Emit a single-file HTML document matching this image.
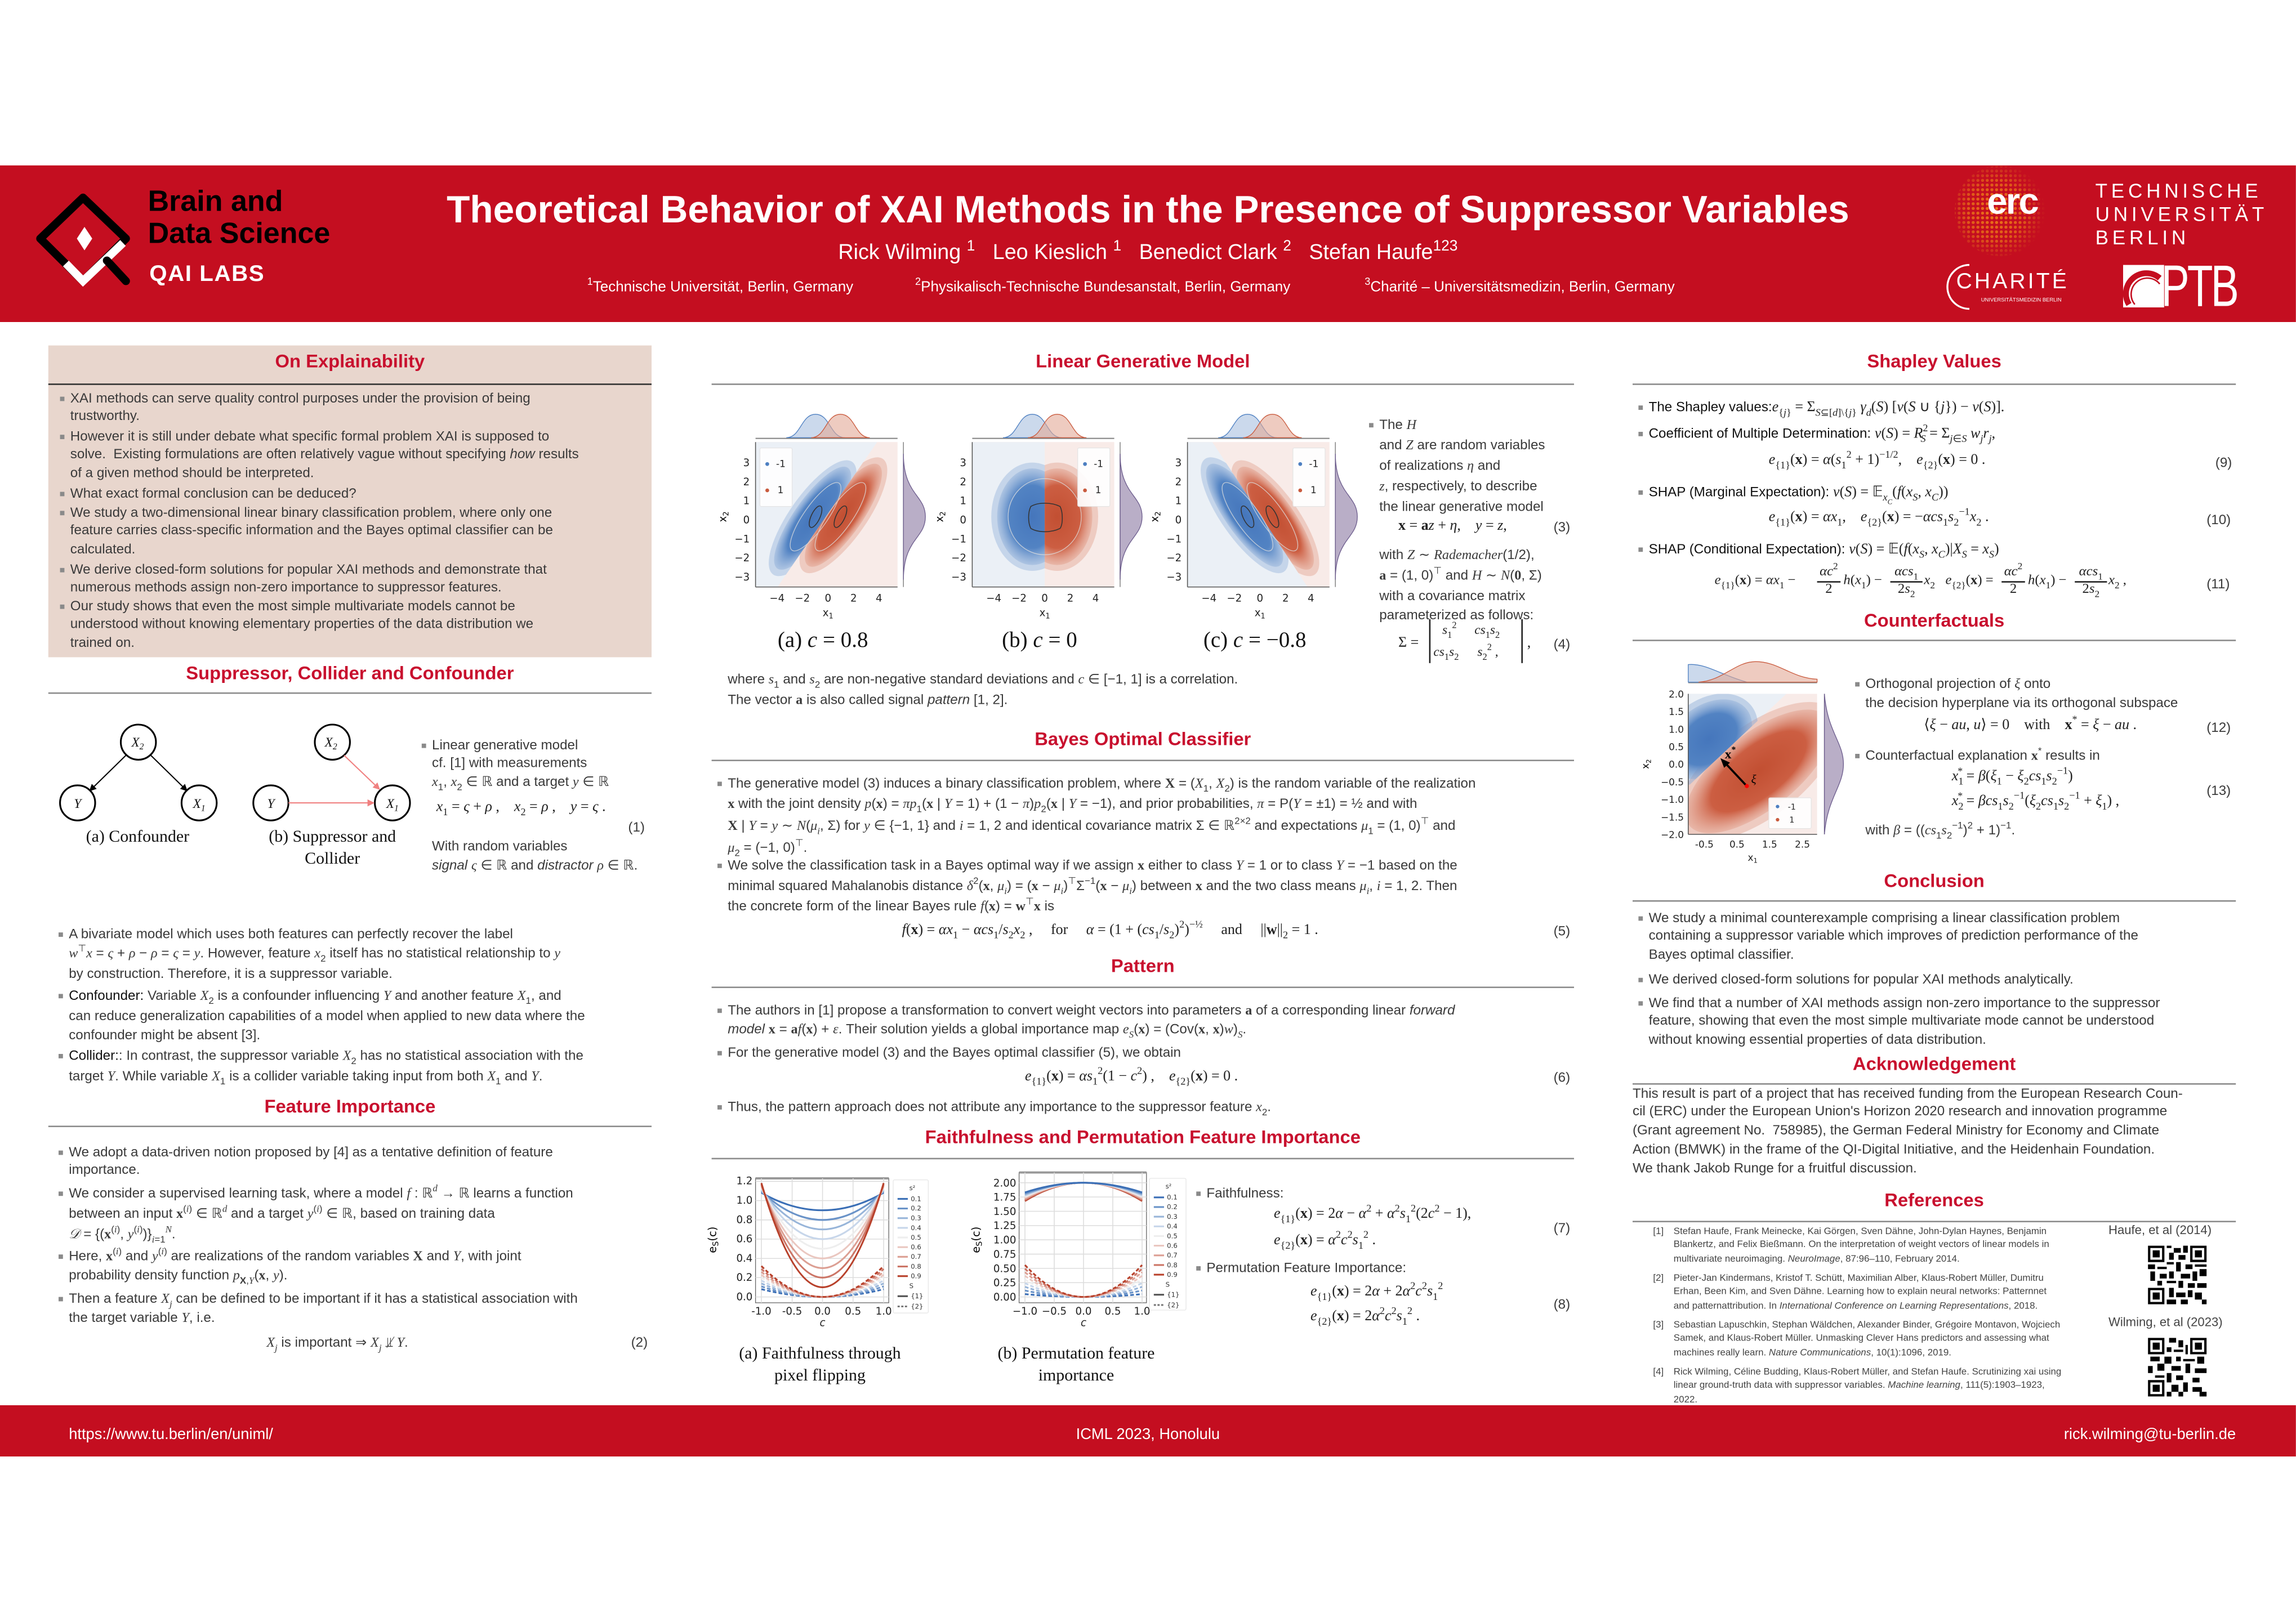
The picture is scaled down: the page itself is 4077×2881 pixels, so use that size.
<!DOCTYPE html>
<html><head><meta charset="utf-8">
<style>
html,body{margin:0;padding:0;background:#fff;}
body{width:4077px;height:2880px;overflow:hidden;position:relative;}
#w{position:absolute;left:0;top:0;width:1568px;height:1108px;transform:scale(2.6);transform-origin:0 0;font-family:"Liberation Sans",sans-serif;color:#333;}
#w div{position:absolute;white-space:nowrap;}
.tx{font-size:9.3px;line-height:12.9px;color:#3a3a3a;}
.k{color:#111;}
.bu::before{content:"";position:absolute;left:-7px;top:5px;width:3px;height:3px;background:#8a8a8a;}
.m{font-family:"Liberation Serif",serif;font-style:italic;}
.r{font-family:"Liberation Serif",serif;}
.bf{font-family:"Liberation Serif",serif;font-weight:bold;}
.eq{font-family:"Liberation Serif",serif;font-size:10px;color:#222;}
.t{font-weight:bold;font-size:12.6px;color:#C8102E;text-align:center;}
.hl{height:0.8px;background:#8c8c8c;}
.cap{font-family:"Liberation Serif",serif;font-size:11.5px;color:#111;text-align:center;line-height:14.5px;}
sub,sup{font-size:70%;line-height:0;}
svg{position:absolute;overflow:visible;}
</style></head><body><div id="w">

<svg style="left:0;top:0" width="0" height="0">
 <defs>
  <radialGradient id="gb"><stop offset="0" stop-color="#4576bc"/><stop offset="0.65" stop-color="#5283c3"/><stop offset="1" stop-color="#7fa3d3" stop-opacity="0.35"/></radialGradient>
  <radialGradient id="gr"><stop offset="0" stop-color="#c24f32"/><stop offset="0.65" stop-color="#cc5e42"/><stop offset="1" stop-color="#dd8f78" stop-opacity="0.35"/></radialGradient>
 </defs>
</svg>

<!-- HEADER -->
<div style="left:0;top:113px;width:1568px;height:107px;background:#C40E20;"></div>
<svg style="left:0;top:113px" width="100" height="107" viewBox="0 113 100 107">
 <polygon points="56.7,135 86,163 56.7,192 27.5,163" fill="none" stroke="#000" stroke-width="5.5" stroke-linejoin="round"/>
 <polyline points="45,180 56.7,192 84,166" fill="none" stroke="#fff" stroke-width="5.5"/>
 <line x1="73" y1="178" x2="86" y2="192" stroke="#000" stroke-width="5.5" stroke-linecap="round"/>
 <polygon points="57.7,155 63,163 57.7,171 52.5,163" fill="#fff"/>
</svg>
<div style="left:101px;top:127px;font-weight:bold;font-size:20px;line-height:22px;color:#000;">Brain and<br>Data Science</div>
<div style="left:102px;top:179px;font-weight:bold;font-size:15.5px;color:#fff;letter-spacing:0.6px;">QAI LABS</div>
<div style="left:284px;top:128px;width:1000px;text-align:center;font-weight:bold;font-size:26px;color:#fff;">Theoretical Behavior of XAI Methods in the Presence of Suppressor Variables</div>
<div style="left:384px;top:165px;width:800px;text-align:center;font-size:14.5px;color:#fff;">Rick Wilming <sup>1</sup> &nbsp; Leo Kieslich <sup>1</sup> &nbsp; Benedict Clark <sup>2</sup> &nbsp; Stefan Haufe<sup>123</sup></div>
<div style="left:401px;top:191px;font-size:10px;color:#fff;"><sup>1</sup>Technische Universität, Berlin, Germany</div>
<div style="left:625px;top:191px;font-size:10px;color:#fff;"><sup>2</sup>Physikalisch-Technische Bundesanstalt, Berlin, Germany</div>
<div style="left:932px;top:191px;font-size:10px;color:#fff;"><sup>3</sup>Charité – Universitätsmedizin, Berlin, Germany</div>
<svg style="left:1330px;top:112px" width="72" height="64" viewBox="0 0 72 64">
 <defs><radialGradient id="eg" cx="0.45" cy="0.5" r="0.55"><stop offset="0" stop-color="#f07a1a"/><stop offset="0.6" stop-color="#e56a18" stop-opacity="0.8"/><stop offset="1" stop-color="#e06a20" stop-opacity="0"/></radialGradient>
 <pattern id="dp" width="3.2" height="3.2" patternUnits="userSpaceOnUse"><circle cx="1.6" cy="1.6" r="1.05" fill="#fff"/></pattern>
 <mask id="dm"><rect width="72" height="64" fill="url(#dp)"/></mask></defs>
 <circle cx="36" cy="32" r="31" fill="url(#eg)" mask="url(#dm)"/>
</svg>
<div style="left:1357px;top:124px;font-weight:bold;font-size:25px;color:#fff;letter-spacing:-1px;">erc</div>
<div style="left:1431px;top:123px;font-size:13.5px;line-height:15.8px;color:#fff;letter-spacing:2.6px;">TECHNISCHE<br>UNIVERSITÄT<br>BERLIN</div>
<svg style="left:1324px;top:178px" width="90" height="36" viewBox="0 0 90 36">
 <path d="M21,3 A15,15 0 1 0 21,33" fill="none" stroke="#fff" stroke-width="1.3"/>
</svg>
<div style="left:1336px;top:184px;font-size:15px;color:#fff;letter-spacing:1.6px;">CHARITÉ</div>
<div style="left:1353px;top:203px;font-size:3.6px;color:#fff;">UNIVERSITÄTSMEDIZIN BERLIN</div>
<div style="left:1450px;top:181px;width:28px;height:29px;background:#fff;"></div>
<svg style="left:1450px;top:181px" width="28" height="29" viewBox="0 0 28 29"><path d="M4,27 A14,14 0 0 1 25,9" fill="none" stroke="#C40E20" stroke-width="4"/><path d="M8,27 A10,10 0 0 1 25,13" fill="none" stroke="#C40E20" stroke-width="1"/></svg>
<div style="left:1476px;top:174px;font-size:40px;color:#fff;transform:scaleX(0.72);transform-origin:0 0;letter-spacing:-2px;">PTB</div>

<!-- FOOTER -->
<div style="left:0;top:960px;width:1568px;height:35px;background:#C40E20;"></div>
<div style="left:47px;top:974px;font-size:10.5px;color:#fff;">https://www.tu.berlin/en/uniml/</div>
<div style="left:684px;top:974px;width:200px;text-align:center;font-size:10.5px;color:#fff;">ICML 2023, Honolulu</div>
<div style="left:1327px;top:974px;width:200px;text-align:right;font-size:10.5px;color:#fff;">rick.wilming@tu-berlin.de</div>

<!-- COLUMN 1 -->
<div style="left:33px;top:236px;width:412px;height:213px;background:#E8D6CD;"></div>
<div class="t" style="left:33px;top:240px;width:412px;">On Explainability</div>
<div class="hl" style="left:33px;top:262px;width:412px;background:#333;"></div>
<div class="tx bu" style="left:48px;top:265.5px;">XAI methods can serve quality control purposes under the provision of being<br>trustworthy.</div>
<div class="tx bu" style="left:48px;top:291.5px;">However it is still under debate what specific formal problem XAI is supposed to<br>solve.&nbsp; Existing formulations are often relatively vague without specifying <i>how</i> results<br>of a given method should be interpreted.</div>
<div class="tx bu" style="left:48px;top:330.5px;">What exact formal conclusion can be deduced?</div>
<div class="tx bu" style="left:48px;top:343.5px;">We study a two-dimensional linear binary classification problem, where only one<br>feature carries class-specific information and the Bayes optimal classifier can be<br>calculated.</div>
<div class="tx bu" style="left:48px;top:382.5px;">We derive closed-form solutions for popular XAI methods and demonstrate that<br>numerous methods assign non-zero importance to suppressor features.</div>
<div class="tx bu" style="left:48px;top:407.5px;">Our study shows that even the most simple multivariate models cannot be<br>understood without knowing elementary properties of the data distribution we<br>trained on.</div>

<div class="t" style="left:33px;top:453px;width:412px;">Suppressor, Collider and Confounder</div>
<div class="hl" style="left:33px;top:472.5px;width:412px;"></div>
<svg style="left:33px;top:480px" width="260" height="120" viewBox="33 480 260 120">
 <defs><marker id="ah" markerWidth="6" markerHeight="6" refX="5" refY="3" orient="auto"><path d="M0,0 L6,3 L0,6 Z" fill="#000"/></marker>
 <marker id="ahr" markerWidth="6" markerHeight="6" refX="5" refY="3" orient="auto"><path d="M0,0 L6,3 L0,6 Z" fill="#f08080"/></marker></defs>
 <g fill="#fff" stroke="#000" stroke-width="1.2">
  <circle cx="94.5" cy="507" r="12"/><circle cx="53" cy="548.5" r="12"/><circle cx="136" cy="548.5" r="12"/>
  <circle cx="227" cy="507" r="12"/><circle cx="185" cy="548.5" r="12"/><circle cx="268" cy="548.5" r="12"/>
 </g>
 <line x1="86" y1="516" x2="61.5" y2="540" stroke="#000" stroke-width="0.8" marker-end="url(#ah)"/>
 <line x1="103" y1="516" x2="127.5" y2="540" stroke="#000" stroke-width="0.8" marker-end="url(#ah)"/>
 <line x1="235" y1="516" x2="259" y2="539" stroke="#f08080" stroke-width="0.8" marker-end="url(#ahr)"/>
 <line x1="197" y1="548.5" x2="255" y2="548.5" stroke="#f08080" stroke-width="0.8" marker-end="url(#ahr)"/>
 <g font-family="Liberation Serif" font-style="italic" font-size="9" text-anchor="middle" fill="#111">
  <text x="94" y="510">X<tspan font-size="6" dy="2">2</tspan></text><text x="53" y="552">Y</text><text x="136" y="552">X<tspan font-size="6" dy="2">1</tspan></text>
  <text x="226" y="510">X<tspan font-size="6" dy="2">2</tspan></text><text x="185" y="552">Y</text><text x="268" y="552">X<tspan font-size="6" dy="2">1</tspan></text>
 </g>
</svg>
<div class="cap" style="left:39px;top:565px;width:110px;">(a) Confounder</div>
<div class="cap" style="left:167px;top:565px;width:120px;">(b) Suppressor and<br>Collider</div>
<div class="tx bu" style="left:295px;top:502.5px;">Linear generative model<br>cf. [1] with measurements<br><span class="m">x</span><sub>1</sub>, <span class="m">x</span><sub>2</sub> ∈ ℝ and a target <span class="m">y</span> ∈ ℝ</div>
<div class="eq" style="left:298px;top:546px;"><span class="m">x</span><sub>1</sub> = <span class="m">ς</span> + <span class="m">ρ</span> , &nbsp;&nbsp; <span class="m">x</span><sub>2</sub> = <span class="m">ρ</span> , &nbsp;&nbsp; <span class="m">y</span> = <span class="m">ς</span> .</div>
<div class="tx" style="left:429px;top:559px;">(1)</div>
<div class="tx" style="left:295px;top:572px;">With random variables<br><i>signal</i> <span class="m">ς</span> ∈ ℝ and <i>distractor</i> <span class="m">ρ</span> ∈ ℝ.</div>

<div class="tx bu" style="left:47px;top:631.5px;line-height:13.2px;">A bivariate model which uses both features can perfectly recover the label<br><span class="m">w</span><sup>⊤</sup><span class="m">x</span> = <span class="m">ς</span> + <span class="m">ρ</span> − <span class="m">ρ</span> = <span class="m">ς</span> = <span class="m">y</span>. However, feature <span class="m">x</span><sub>2</sub> itself has no statistical relationship to <span class="m">y</span><br>by construction. Therefore, it is a suppressor variable.</div>
<div class="tx bu" style="left:47px;top:673.5px;line-height:13.2px;"><span class="k">Confounder:</span> Variable <span class="m">X</span><sub>2</sub> is a confounder influencing <span class="m">Y</span> and another feature <span class="m">X</span><sub>1</sub>, and<br>can reduce generalization capabilities of a model when applied to new data where the<br>confounder might be absent [3].</div>
<div class="tx bu" style="left:47px;top:714.5px;line-height:13.2px;"><span class="k">Collider:</span>: In contrast, the suppressor variable <span class="m">X</span><sub>2</sub> has no statistical association with the<br>target <span class="m">Y</span>. While variable <span class="m">X</span><sub>1</sub> is a collider variable taking input from both <span class="m">X</span><sub>1</sub> and <span class="m">Y</span>.</div>

<div class="t" style="left:33px;top:749px;width:412px;">Feature Importance</div>
<div class="hl" style="left:33px;top:768.5px;width:412px;"></div>
<div class="tx bu" style="left:47px;top:780.5px;">We adopt a data-driven notion proposed by [4] as a tentative definition of feature<br>importance.</div>
<div class="tx bu" style="left:47px;top:808.5px;line-height:13.4px;">We consider a supervised learning task, where a model <span class="m">f</span> : ℝ<sup class="m">d</sup> → ℝ learns a function<br>between an input <b class="r">x</b><sup>(<span class="m">i</span>)</sup> ∈ ℝ<sup class="m">d</sup> and a target <span class="m">y</span><sup>(<span class="m">i</span>)</sup> ∈ ℝ, based on training data<br><span class="m">𝒟</span> = {(<b class="r">x</b><sup>(<span class="m">i</span>)</sup>, <span class="m">y</span><sup>(<span class="m">i</span>)</sup>)}<sub><span class="m">i</span>=1</sub><sup class="m">N</sup>.</div>
<div class="tx bu" style="left:47px;top:851.5px;">Here, <b class="r">x</b><sup>(<span class="m">i</span>)</sup> and <span class="m">y</span><sup>(<span class="m">i</span>)</sup> are realizations of the random variables <b class="r">X</b> and <span class="m">Y</span>, with joint<br>probability density function <span class="m">p</span><sub><b>X</b>,<span class="m">Y</span></sub>(<b class="r">x</b>, <span class="m">y</span>).</div>
<div class="tx bu" style="left:47px;top:880.5px;">Then a feature <span class="m">X<sub>j</sub></span> can be defined to be important if it has a statistical association with<br>the target variable <span class="m">Y</span>, i.e.</div>
<div class="tx" style="left:182px;top:910.5px;"><span class="m">X<sub>j</sub></span> is important ⇒ <span class="m">X<sub>j</sub></span> ⫫̸ <span class="m">Y</span>.</div>
<div class="tx" style="left:431px;top:910.5px;">(2)</div>

<!-- COLUMN 2 -->
<div class="t" style="left:486px;top:240px;width:589px;">Linear Generative Model</div>
<div class="hl" style="left:486px;top:261.5px;width:589px;"></div>

<!-- scatter a -->
<svg style="left:486px;top:280px" width="150" height="145" viewBox="0 0 150 145">
 <defs><clipPath id="ba"><polygon points="30,22 113,22 45,121 30,121"/></clipPath><clipPath id="ra"><polygon points="113,22 127,22 127,121 45,121"/></clipPath></defs>
 <rect x="30" y="22" width="97" height="99" fill="#F8EBE8"/>
 <polygon points="30,22 113,22 45,121 30,121" fill="#EBF0F6"/>
 <g clip-path="url(#ba)"><ellipse cx="69" cy="74" rx="47" ry="16" transform="rotate(-55 69 74)" fill="#7fa3d3" opacity="0.35"/><ellipse cx="69" cy="74" rx="42" ry="13" transform="rotate(-55 69 74)" fill="url(#gb)"/></g>
 <g clip-path="url(#ra)"><ellipse cx="90" cy="72" rx="47" ry="16" transform="rotate(-55 90 72)" fill="#dd8f78" opacity="0.35"/><ellipse cx="90" cy="72" rx="42" ry="13" transform="rotate(-55 90 72)" fill="url(#gr)"/></g>
 <g fill="none" stroke="#ddd" stroke-width="0.5" opacity="0.8"><ellipse cx="71" cy="73" rx="28" ry="8" transform="rotate(-55 71 73)"/><ellipse cx="88" cy="73" rx="28" ry="8" transform="rotate(-55 88 73)"/></g>
 <g fill="none" stroke="#333" stroke-width="0.6"><ellipse cx="71" cy="73" rx="8" ry="3" transform="rotate(-65 71 73)"/><ellipse cx="88" cy="73" rx="8" ry="3" transform="rotate(-65 88 73)"/></g>
 <rect x="33" y="26" width="22" height="40" fill="#fff" opacity="0.92" stroke="#e4e4e4" stroke-width="0.5" rx="1"/>
 <circle cx="38" cy="37" r="1.3" fill="#4d7fc1"/><circle cx="38" cy="55" r="1.3" fill="#c95a3d"/>
 <g font-family="DejaVu Sans" font-size="6.5" fill="#222"><text x="44" y="39">-1</text><text x="45" y="57">1</text></g>
 <line x1="30" y1="19.5" x2="127" y2="19.5" stroke="#888" stroke-width="0.8"/>
 <path d="M51,19 C61,19 61,3 71,3 C81,3 81,19 91,19 Z" fill="#a8bfdf" fill-opacity="0.6" stroke="#4d7fc1" stroke-width="0.5"/>
 <path d="M68,19 C78,19 78,3 88,3 C98,3 98,19 108,19 Z" fill="#e3a896" fill-opacity="0.6" stroke="#c95a3d" stroke-width="0.5"/>
 <line x1="131" y1="22" x2="131" y2="121" stroke="#888" stroke-width="0.6"/>
 <path d="M131,30 C131,58 146,58 146,73 C146,88 131,88 131,116 Z" fill="#b9aec7" stroke="#6b5b8c" stroke-width="0.5"/>
 <line x1="30" y1="121" x2="127" y2="121" stroke="#555" stroke-width="0.6"/><line x1="30" y1="22" x2="30" y2="121" stroke="#555" stroke-width="0.6"/>
 <g font-family="DejaVu Sans" font-size="7" fill="#222" text-anchor="end"><text x="26" y="38.5">3</text><text x="26" y="51.5">2</text><text x="26" y="64.5">1</text><text x="26" y="77.5">0</text><text x="26" y="90.5">−1</text><text x="26" y="103.5">−2</text><text x="26" y="116.5">−3</text></g>
 <g font-family="DejaVu Sans" font-size="7" fill="#222" text-anchor="middle"><text x="44.7" y="131">−4</text><text x="62" y="131">−2</text><text x="79.5" y="131">0</text><text x="97" y="131">2</text><text x="114.3" y="131">4</text><text x="79.5" y="141">x<tspan font-size="5" dy="1.5">1</tspan></text></g>
 <text x="10" y="73" font-family="DejaVu Sans" font-size="7" transform="rotate(-90 10 73)" text-anchor="middle">x<tspan font-size="5" dy="1.5">2</tspan></text>
</svg>
<!-- scatter b -->
<svg style="left:634px;top:280px" width="150" height="145" viewBox="0 0 150 145">
 <defs><clipPath id="bb"><rect x="30" y="22" width="49.5" height="99"/></clipPath><clipPath id="rb"><rect x="79.5" y="22" width="47.5" height="99"/></clipPath></defs>
 <rect x="30" y="22" width="97" height="99" fill="#F8EBE8"/>
 <rect x="30" y="22" width="49.5" height="99" fill="#EBF0F6"/>
 <g clip-path="url(#bb)"><ellipse cx="71" cy="73" rx="28" ry="37" fill="#7fa3d3" opacity="0.35"/><ellipse cx="71" cy="73" rx="24" ry="33" fill="url(#gb)"/></g>
 <g clip-path="url(#rb)"><ellipse cx="88" cy="73" rx="28" ry="37" fill="#dd8f78" opacity="0.35"/><ellipse cx="88" cy="73" rx="24" ry="33" fill="url(#gr)"/></g>
 <g fill="none" stroke="#ddd" stroke-width="0.5" opacity="0.8"><ellipse cx="79.5" cy="73" rx="25" ry="26"/></g>
 <path d="M70,66 C75,63 84,63 90,66 C92,70 92,78 90,81 C84,84 75,84 70,81 C68,77 68,70 70,66 Z" fill="none" stroke="#333" stroke-width="0.6"/>
 <rect x="102" y="26" width="22" height="40" fill="#fff" opacity="0.92" stroke="#e4e4e4" stroke-width="0.5" rx="1"/>
 <circle cx="107" cy="37" r="1.3" fill="#4d7fc1"/><circle cx="107" cy="55" r="1.3" fill="#c95a3d"/>
 <g font-family="DejaVu Sans" font-size="6.5" fill="#222"><text x="113" y="39">-1</text><text x="114" y="57">1</text></g>
 <line x1="30" y1="19.5" x2="127" y2="19.5" stroke="#888" stroke-width="0.8"/>
 <path d="M51,19 C61,19 61,3 71,3 C81,3 81,19 91,19 Z" fill="#a8bfdf" fill-opacity="0.6" stroke="#4d7fc1" stroke-width="0.5"/>
 <path d="M68,19 C78,19 78,3 88,3 C98,3 98,19 108,19 Z" fill="#e3a896" fill-opacity="0.6" stroke="#c95a3d" stroke-width="0.5"/>
 <line x1="131" y1="22" x2="131" y2="121" stroke="#888" stroke-width="0.6"/>
 <path d="M131,30 C131,58 146,58 146,73 C146,88 131,88 131,116 Z" fill="#b9aec7" stroke="#6b5b8c" stroke-width="0.5"/>
 <line x1="30" y1="121" x2="127" y2="121" stroke="#555" stroke-width="0.6"/><line x1="30" y1="22" x2="30" y2="121" stroke="#555" stroke-width="0.6"/>
 <g font-family="DejaVu Sans" font-size="7" fill="#222" text-anchor="end"><text x="26" y="38.5">3</text><text x="26" y="51.5">2</text><text x="26" y="64.5">1</text><text x="26" y="77.5">0</text><text x="26" y="90.5">−1</text><text x="26" y="103.5">−2</text><text x="26" y="116.5">−3</text></g>
 <g font-family="DejaVu Sans" font-size="7" fill="#222" text-anchor="middle"><text x="44.7" y="131">−4</text><text x="62" y="131">−2</text><text x="79.5" y="131">0</text><text x="97" y="131">2</text><text x="114.3" y="131">4</text><text x="79.5" y="141">x<tspan font-size="5" dy="1.5">1</tspan></text></g>
 <text x="10" y="73" font-family="DejaVu Sans" font-size="7" transform="rotate(-90 10 73)" text-anchor="middle">x<tspan font-size="5" dy="1.5">2</tspan></text>
</svg>
<!-- scatter c -->
<svg style="left:781px;top:280px" width="150" height="145" viewBox="0 0 150 145">
 <defs><clipPath id="bc"><polygon points="30,22 47,22 112,121 30,121"/></clipPath><clipPath id="rc"><polygon points="47,22 127,22 127,121 112,121"/></clipPath></defs>
 <rect x="30" y="22" width="97" height="99" fill="#F8EBE8"/>
 <polygon points="30,22 47,22 112,121 30,121" fill="#EBF0F6"/>
 <g clip-path="url(#bc)"><ellipse cx="69" cy="72" rx="47" ry="16" transform="rotate(55 69 72)" fill="#7fa3d3" opacity="0.35"/><ellipse cx="69" cy="72" rx="42" ry="13" transform="rotate(55 69 72)" fill="url(#gb)"/></g>
 <g clip-path="url(#rc)"><ellipse cx="90" cy="74" rx="47" ry="16" transform="rotate(55 90 74)" fill="#dd8f78" opacity="0.35"/><ellipse cx="90" cy="74" rx="42" ry="13" transform="rotate(55 90 74)" fill="url(#gr)"/></g>
 <g fill="none" stroke="#ddd" stroke-width="0.5" opacity="0.8"><ellipse cx="71" cy="73" rx="28" ry="8" transform="rotate(55 71 73)"/><ellipse cx="88" cy="73" rx="28" ry="8" transform="rotate(55 88 73)"/></g>
 <g fill="none" stroke="#333" stroke-width="0.6"><ellipse cx="71" cy="73" rx="8" ry="3" transform="rotate(65 71 73)"/><ellipse cx="88" cy="73" rx="8" ry="3" transform="rotate(65 88 73)"/></g>
 <rect x="102" y="26" width="22" height="40" fill="#fff" opacity="0.92" stroke="#e4e4e4" stroke-width="0.5" rx="1"/>
 <circle cx="107" cy="37" r="1.3" fill="#4d7fc1"/><circle cx="107" cy="55" r="1.3" fill="#c95a3d"/>
 <g font-family="DejaVu Sans" font-size="6.5" fill="#222"><text x="113" y="39">-1</text><text x="114" y="57">1</text></g>
 <line x1="30" y1="19.5" x2="127" y2="19.5" stroke="#888" stroke-width="0.8"/>
 <path d="M51,19 C61,19 61,3 71,3 C81,3 81,19 91,19 Z" fill="#a8bfdf" fill-opacity="0.6" stroke="#4d7fc1" stroke-width="0.5"/>
 <path d="M68,19 C78,19 78,3 88,3 C98,3 98,19 108,19 Z" fill="#e3a896" fill-opacity="0.6" stroke="#c95a3d" stroke-width="0.5"/>
 <line x1="131" y1="22" x2="131" y2="121" stroke="#888" stroke-width="0.6"/>
 <path d="M131,30 C131,58 146,58 146,73 C146,88 131,88 131,116 Z" fill="#b9aec7" stroke="#6b5b8c" stroke-width="0.5"/>
 <line x1="30" y1="121" x2="127" y2="121" stroke="#555" stroke-width="0.6"/><line x1="30" y1="22" x2="30" y2="121" stroke="#555" stroke-width="0.6"/>
 <g font-family="DejaVu Sans" font-size="7" fill="#222" text-anchor="end"><text x="26" y="38.5">3</text><text x="26" y="51.5">2</text><text x="26" y="64.5">1</text><text x="26" y="77.5">0</text><text x="26" y="90.5">−1</text><text x="26" y="103.5">−2</text><text x="26" y="116.5">−3</text></g>
 <g font-family="DejaVu Sans" font-size="7" fill="#222" text-anchor="middle"><text x="44.7" y="131">−4</text><text x="62" y="131">−2</text><text x="79.5" y="131">0</text><text x="97" y="131">2</text><text x="114.3" y="131">4</text><text x="79.5" y="141">x<tspan font-size="5" dy="1.5">1</tspan></text></g>
 <text x="10" y="73" font-family="DejaVu Sans" font-size="7" transform="rotate(-90 10 73)" text-anchor="middle">x<tspan font-size="5" dy="1.5">2</tspan></text>
</svg>
<div class="cap" style="left:502px;top:431px;width:120px;font-size:15px;">(a) <span class="m">c</span> = 0.8</div>
<div class="cap" style="left:650px;top:431px;width:120px;font-size:15px;">(b) <span class="m">c</span> = 0</div>
<div class="cap" style="left:797px;top:431px;width:120px;font-size:15px;">(c) <span class="m">c</span> = −0.8</div>

<div class="tx bu" style="left:942px;top:284px;">The <span class="m">H</span><br>and <span class="m">Z</span> are random variables<br>of realizations <span class="m">η</span> and<br><span class="m">z</span>, respectively, to describe<br>the linear generative model</div>
<div class="eq" style="left:955px;top:354px;"><b>x</b> = <b>a</b><span class="m">z</span> + <span class="m">η</span>, &nbsp;&nbsp; <span class="m">y</span> = <span class="m">z</span>,</div>
<div class="tx" style="left:1061px;top:354px;">(3)</div>
<div class="tx" style="left:942px;top:373px;">with <span class="m">Z</span> ∼ <span class="m">Rademacher</span>(1/2),<br><b class="r">a</b> = (1, 0)<sup>⊤</sup> and <span class="m">H</span> ∼ <span class="m">N</span>(<b class="r">0</b>, Σ)<br>with a covariance matrix<br>parameterized as follows:</div>
<div class="eq" style="left:955px;top:434px;">Σ =</div>
<div class="eq" style="left:976px;top:423px;height:30px;width:62px;border-left:1px solid #222;border-right:1px solid #222;font-size:9px;line-height:14px;">
 <div style="left:8px;top:0;"><span class="m">s</span><sub>1</sub><sup>2</sup></div><div style="left:30px;top:0;"><span class="m">cs</span><sub>1</sub><span class="m">s</span><sub>2</sub></div>
 <div style="left:2px;top:15px;"><span class="m">cs</span><sub>1</sub><span class="m">s</span><sub>2</sub></div><div style="left:32px;top:15px;"><span class="m">s</span><sub>2</sub><sup>2</sup> ,</div></div>
<div class="eq" style="left:1043px;top:434px;">,</div>
<div class="tx" style="left:1061px;top:434px;">(4)</div>
<div class="tx" style="left:497px;top:458px;">where <span class="m">s</span><sub>1</sub> and <span class="m">s</span><sub>2</sub> are non-negative standard deviations and <span class="m">c</span> ∈ [−1, 1] is a correlation.<br>The vector <b class="r">a</b> is also called signal <i>pattern</i> [1, 2].</div>

<div class="t" style="left:486px;top:498px;width:589px;">Bayes Optimal Classifier</div>
<div class="hl" style="left:486px;top:518.5px;width:589px;"></div>
<div class="tx bu" style="left:497px;top:528.5px;line-height:13.8px;">The generative model (3) induces a binary classification problem, where <b class="r">X</b> = (<span class="m">X</span><sub>1</sub>, <span class="m">X</span><sub>2</sub>) is the random variable of the realization<br><b class="r">x</b> with the joint density <span class="m">p</span>(<b class="r">x</b>) = <span class="m">πp</span><sub>1</sub>(<b class="r">x</b> | <span class="m">Y</span> = 1) + (1 − <span class="m">π</span>)<span class="m">p</span><sub>2</sub>(<b class="r">x</b> | <span class="m">Y</span> = −1), and prior probabilities, <span class="m">π</span> = P(<span class="m">Y</span> = ±1) = ½ and with<br><b class="r">X</b> | <span class="m">Y</span> = <span class="m">y</span> ∼ <span class="m">N</span>(<span class="m">μ<sub>i</sub></span>, Σ) for <span class="m">y</span> ∈ {−1, 1} and <span class="m">i</span> = 1, 2 and identical covariance matrix Σ ∈ ℝ<sup>2×2</sup> and expectations <span class="m">μ</span><sub>1</sub> = (1, 0)<sup>⊤</sup> and<br><span class="m">μ</span><sub>2</sub> = (−1, 0)<sup>⊤</sup>.</div>
<div class="tx bu" style="left:497px;top:584.5px;line-height:13.2px;">We solve the classification task in a Bayes optimal way if we assign <b class="r">x</b> either to class <span class="m">Y</span> = 1 or to class <span class="m">Y</span> = −1 based on the<br>minimal squared Mahalanobis distance <span class="m">δ</span><sup>2</sup>(<b class="r">x</b>, <span class="m">μ<sub>i</sub></span>) = (<b class="r">x</b> − <span class="m">μ<sub>i</sub></span>)<sup>⊤</sup>Σ<sup>−1</sup>(<b class="r">x</b> − <span class="m">μ<sub>i</sub></span>) between <b class="r">x</b> and the two class means <span class="m">μ<sub>i</sub></span>, <span class="m">i</span> = 1, 2. Then<br>the concrete form of the linear Bayes rule <span class="m">f</span>(<b class="r">x</b>) = <b class="r">w</b><sup>⊤</sup><b class="r">x</b> is</div>
<div class="eq" style="left:616px;top:630px;"><span class="m">f</span>(<b>x</b>) = <span class="m">αx</span><sub>1</sub> − <span class="m">αcs</span><sub>1</sub>/<span class="m">s</span><sub>2</sub><span class="m">x</span><sub>2</sub> , &nbsp;&nbsp;&nbsp; for &nbsp;&nbsp;&nbsp; <span class="m">α</span> = (1 + (<span class="m">cs</span><sub>1</sub>/<span class="m">s</span><sub>2</sub>)<sup>2</sup>)<sup>−½</sup> &nbsp;&nbsp;&nbsp; and &nbsp;&nbsp;&nbsp; ||<b>w</b>||<sub>2</sub> = 1 .</div>
<div class="tx" style="left:1061px;top:630px;">(5)</div>

<div class="t" style="left:486px;top:653px;width:589px;">Pattern</div>
<div class="hl" style="left:486px;top:673.5px;width:589px;"></div>
<div class="tx bu" style="left:497px;top:683.5px;">The authors in [1] propose a transformation to convert weight vectors into parameters <b class="r">a</b> of a corresponding linear <i>forward</i><br><i>model</i> <b class="r">x</b> = <b class="r">a</b><span class="m">f</span>(<b class="r">x</b>) + <span class="m">ε</span>. Their solution yields a global importance map <span class="m">e<sub>S</sub></span>(<b class="r">x</b>) = (Cov(<b class="r">x</b>, <b class="r">x</b>)<span class="m">w</span>)<sub><span class="m">S</span></sub>.</div>
<div class="tx bu" style="left:497px;top:712.5px;">For the generative model (3) and the Bayes optimal classifier (5), we obtain</div>
<div class="eq" style="left:700px;top:730px;"><span class="m">e</span><sub>{1}</sub>(<b>x</b>) = <span class="m">αs</span><sub>1</sub><sup>2</sup>(1 − <span class="m">c</span><sup>2</sup>) , &nbsp;&nbsp; <span class="m">e</span><sub>{2}</sub>(<b>x</b>) = 0 .</div>
<div class="tx" style="left:1061px;top:730px;">(6)</div>
<div class="tx bu" style="left:497px;top:749.5px;">Thus, the pattern approach does not attribute any importance to the suppressor feature <span class="m">x</span><sub>2</sub>.</div>

<div class="t" style="left:486px;top:770px;width:589px;">Faithfulness and Permutation Feature Importance</div>
<div class="hl" style="left:486px;top:790.5px;width:589px;"></div>

<!-- faith plot a -->
<svg style="left:480px;top:795px" width="160" height="115" viewBox="0 0 160 115">
 <rect x="36" y="10" width="91" height="85" fill="#fff" stroke="#666" stroke-width="0.5"/>
 <line x1="36" y1="10" x2="127" y2="10" stroke="#999" stroke-width="1.5"/>
 <g stroke="#ddd" stroke-width="0.6"><line x1="36" y1="91" x2="127" y2="91"/><line x1="36" y1="77.8" x2="127" y2="77.8"/><line x1="36" y1="64.7" x2="127" y2="64.7"/><line x1="36" y1="51.5" x2="127" y2="51.5"/><line x1="36" y1="38.4" x2="127" y2="38.4"/><line x1="36" y1="25.2" x2="127" y2="25.2"/><line x1="36" y1="12" x2="127" y2="12"/>
 <line x1="40" y1="10" x2="40" y2="95"/><line x1="61" y1="10" x2="61" y2="95"/><line x1="81.75" y1="10" x2="81.75" y2="95"/><line x1="102.6" y1="10" x2="102.6" y2="95"/><line x1="123.5" y1="10" x2="123.5" y2="95"/></g>
 <g fill="none" stroke-width="1.2">
  <path d="M40,19.8 Q81.75,43.8 123.5,19.8" stroke="#3b6fb6"/><path d="M40,18.95 Q81.75,57.85 123.5,18.95" stroke="#6a93c8"/><path d="M40,18.1 Q81.75,71.7 123.5,18.1" stroke="#98b5d9"/><path d="M40,17.3 Q81.75,85.7 123.5,17.3" stroke="#c7d6ea"/><path d="M40,16.5 Q81.75,99.7 123.5,16.5" stroke="#eeeeee"/><path d="M40,15.7 Q81.75,113.7 123.5,15.7" stroke="#eac7c0"/><path d="M40,14.8 Q81.75,127.8 123.5,14.8" stroke="#dc9f93"/><path d="M40,14 Q81.75,141.6 123.5,14" stroke="#cc7566"/><path d="M40,13.2 Q81.75,155.6 123.5,13.2" stroke="#b8412b"/>
 </g>
 <g fill="none" stroke-width="1.2" stroke-dasharray="2.5,1.5">
  <path d="M40,85.7 Q81.75,96.3 123.5,85.7" stroke="#3b6fb6"/><path d="M40,83.8 Q81.75,98.2 123.5,83.8" stroke="#6a93c8"/><path d="M40,81.8 Q81.75,100.2 123.5,81.8" stroke="#98b5d9"/><path d="M40,79.8 Q81.75,102.2 123.5,79.8" stroke="#c7d6ea"/><path d="M40,77.8 Q81.75,104.2 123.5,77.8" stroke="#eeeeee"/><path d="M40,75.9 Q81.75,106.1 123.5,75.9" stroke="#eac7c0"/><path d="M40,73.9 Q81.75,108.1 123.5,73.9" stroke="#dc9f93"/><path d="M40,71.9 Q81.75,110.1 123.5,71.9" stroke="#cc7566"/><path d="M40,69.9 Q81.75,112.1 123.5,69.9" stroke="#b8412b"/>
 </g>
 <g font-family="DejaVu Sans" font-size="7" fill="#222" text-anchor="end"><text x="34" y="14">1.2</text><text x="34" y="27.4">1.0</text><text x="34" y="40.6">0.8</text><text x="34" y="53.7">0.6</text><text x="34" y="66.9">0.4</text><text x="34" y="80">0.2</text><text x="34" y="93.2">0.0</text></g>
 <g font-family="DejaVu Sans" font-size="7" fill="#222" text-anchor="middle"><text x="40" y="103">-1.0</text><text x="61" y="103">-0.5</text><text x="81.75" y="103">0.0</text><text x="102.6" y="103">0.5</text><text x="123.5" y="103">1.0</text><text x="81.75" y="111" font-style="italic">c</text></g>
 <text x="9" y="52" font-family="DejaVu Sans" font-size="7.5" transform="rotate(-90 9 52)" text-anchor="middle">e<tspan font-size="5.5" dy="1.5">S</tspan><tspan dy="-1.5">(c)</tspan></text>
 <rect x="130" y="11" width="24" height="91" fill="#fff" stroke="#e6e6e6" stroke-width="0.5" rx="1"/>
 <g font-family="DejaVu Sans" font-size="4.5" fill="#333"><text x="141" y="18">s²</text>
  <text x="142" y="25.5">0.1</text><text x="142" y="32">0.2</text><text x="142" y="38.7">0.3</text><text x="142" y="45.3">0.4</text><text x="142" y="52">0.5</text><text x="142" y="58.5">0.6</text><text x="142" y="65">0.7</text><text x="142" y="71.7">0.8</text><text x="142" y="78.3">0.9</text><text x="141" y="85">S</text><text x="142" y="92">{1}</text><text x="142" y="99">{2}</text></g>
 <g stroke-width="1.2"><line x1="133" y1="24" x2="140" y2="24" stroke="#3b6fb6"/><line x1="133" y1="30.6" x2="140" y2="30.6" stroke="#6a93c8"/><line x1="133" y1="37.2" x2="140" y2="37.2" stroke="#98b5d9"/><line x1="133" y1="43.8" x2="140" y2="43.8" stroke="#c7d6ea"/><line x1="133" y1="50.4" x2="140" y2="50.4" stroke="#eee"/><line x1="133" y1="57" x2="140" y2="57" stroke="#eac7c0"/><line x1="133" y1="63.6" x2="140" y2="63.6" stroke="#dc9f93"/><line x1="133" y1="70.2" x2="140" y2="70.2" stroke="#cc7566"/><line x1="133" y1="76.8" x2="140" y2="76.8" stroke="#b8412b"/><line x1="133" y1="90.5" x2="140" y2="90.5" stroke="#555"/><line x1="133" y1="97.5" x2="140" y2="97.5" stroke="#777" stroke-dasharray="1.5,1"/></g>
</svg>
<!-- faith plot b -->
<svg style="left:660px;top:795px" width="160" height="115" viewBox="0 0 160 115">
 <rect x="36" y="6" width="87" height="89" fill="#fff" stroke="#666" stroke-width="0.5"/>
 <line x1="36" y1="6" x2="123" y2="6" stroke="#999" stroke-width="1.5"/>
 <g stroke="#ddd" stroke-width="0.6"><line x1="36" y1="91" x2="123" y2="91"/><line x1="36" y1="81.25" x2="123" y2="81.25"/><line x1="36" y1="71.5" x2="123" y2="71.5"/><line x1="36" y1="61.75" x2="123" y2="61.75"/><line x1="36" y1="52" x2="123" y2="52"/><line x1="36" y1="42.25" x2="123" y2="42.25"/><line x1="36" y1="32.5" x2="123" y2="32.5"/><line x1="36" y1="22.75" x2="123" y2="22.75"/><line x1="36" y1="13" x2="123" y2="13"/>
 <line x1="40" y1="6" x2="40" y2="95"/><line x1="60" y1="6" x2="60" y2="95"/><line x1="80" y1="6" x2="80" y2="95"/><line x1="100" y1="6" x2="100" y2="95"/><line x1="120" y1="6" x2="120" y2="95"/></g>
 <g fill="none" stroke-width="1.2">
  <path d="M40,25.5 Q80,0.5 120,25.5" stroke="#b8412b"/><path d="M40,24.8 Q80,1.2 120,24.8" stroke="#cc7566"/><path d="M40,24 Q80,2 120,24" stroke="#dc9f93"/><path d="M40,23.3 Q80,2.7 120,23.3" stroke="#eac7c0"/><path d="M40,22.6 Q80,3.4 120,22.6" stroke="#eeeeee"/><path d="M40,21.9 Q80,4.1 120,21.9" stroke="#c7d6ea"/><path d="M40,21.1 Q80,4.9 120,21.1" stroke="#98b5d9"/><path d="M40,20.4 Q80,5.6 120,20.4" stroke="#6a93c8"/><path d="M40,19.6 Q80,6.4 120,19.6" stroke="#3b6fb6"/>
 </g>
 <g fill="none" stroke-width="1.2" stroke-dasharray="2.5,1.5">
  <path d="M40,89.05 Q80,92.95 120,89.05" stroke="#3b6fb6"/><path d="M40,86.6 Q80,95.4 120,86.6" stroke="#6a93c8"/><path d="M40,84.1 Q80,97.9 120,84.1" stroke="#98b5d9"/><path d="M40,81.6 Q80,100.4 120,81.6" stroke="#c7d6ea"/><path d="M40,79.1 Q80,102.9 120,79.1" stroke="#eeeeee"/><path d="M40,76.6 Q80,105.4 120,76.6" stroke="#eac7c0"/><path d="M40,74.1 Q80,107.9 120,74.1" stroke="#dc9f93"/><path d="M40,71.7 Q80,110.3 120,71.7" stroke="#cc7566"/><path d="M40,69.2 Q80,112.8 120,69.2" stroke="#b8412b"/>
 </g>
 <g font-family="DejaVu Sans" font-size="7" fill="#222" text-anchor="end"><text x="34" y="15.5">2.00</text><text x="34" y="25.2">1.75</text><text x="34" y="35">1.50</text><text x="34" y="44.7">1.25</text><text x="34" y="54.5">1.00</text><text x="34" y="64.2">0.75</text><text x="34" y="74">0.50</text><text x="34" y="83.7">0.25</text><text x="34" y="93.5">0.00</text></g>
 <g font-family="DejaVu Sans" font-size="7" fill="#222" text-anchor="middle"><text x="40" y="103">−1.0</text><text x="60" y="103">−0.5</text><text x="80" y="103">0.0</text><text x="100" y="103">0.5</text><text x="120" y="103">1.0</text><text x="80" y="111" font-style="italic">c</text></g>
 <text x="9" y="52" font-family="DejaVu Sans" font-size="7.5" transform="rotate(-90 9 52)" text-anchor="middle">e<tspan font-size="5.5" dy="1.5">S</tspan><tspan dy="-1.5">(c)</tspan></text>
 <rect x="125" y="10" width="25" height="90" fill="#fff" stroke="#e6e6e6" stroke-width="0.5" rx="1"/>
 <g font-family="DejaVu Sans" font-size="4.5" fill="#333"><text x="136" y="17">s²</text>
  <text x="137" y="24.5">0.1</text><text x="137" y="31">0.2</text><text x="137" y="37.7">0.3</text><text x="137" y="44.3">0.4</text><text x="137" y="51">0.5</text><text x="137" y="57.5">0.6</text><text x="137" y="64">0.7</text><text x="137" y="70.7">0.8</text><text x="137" y="77.3">0.9</text><text x="136" y="84">S</text><text x="137" y="91">{1}</text><text x="137" y="98">{2}</text></g>
 <g stroke-width="1.2"><line x1="128" y1="23" x2="135" y2="23" stroke="#3b6fb6"/><line x1="128" y1="29.6" x2="135" y2="29.6" stroke="#6a93c8"/><line x1="128" y1="36.2" x2="135" y2="36.2" stroke="#98b5d9"/><line x1="128" y1="42.8" x2="135" y2="42.8" stroke="#c7d6ea"/><line x1="128" y1="49.4" x2="135" y2="49.4" stroke="#eee"/><line x1="128" y1="56" x2="135" y2="56" stroke="#eac7c0"/><line x1="128" y1="62.6" x2="135" y2="62.6" stroke="#dc9f93"/><line x1="128" y1="69.2" x2="135" y2="69.2" stroke="#cc7566"/><line x1="128" y1="75.8" x2="135" y2="75.8" stroke="#b8412b"/><line x1="128" y1="89.5" x2="135" y2="89.5" stroke="#555"/><line x1="128" y1="96.5" x2="135" y2="96.5" stroke="#777" stroke-dasharray="1.5,1"/></g>
</svg>
<div class="cap" style="left:490px;top:918px;width:140px;">(a) Faithfulness through<br>pixel flipping</div>
<div class="cap" style="left:665px;top:918px;width:140px;">(b) Permutation feature<br>importance</div>

<div class="tx bu" style="left:824px;top:808.5px;">Faithfulness:</div>
<div class="eq" style="left:870px;top:824px;"><span class="m">e</span><sub>{1}</sub>(<b>x</b>) = 2<span class="m">α</span> − <span class="m">α</span><sup>2</sup> + <span class="m">α</span><sup>2</sup><span class="m">s</span><sub>1</sub><sup>2</sup>(2<span class="m">c</span><sup>2</sup> − 1),</div>
<div class="eq" style="left:870px;top:842px;"><span class="m">e</span><sub>{2}</sub>(<b>x</b>) = <span class="m">α</span><sup>2</sup><span class="m">c</span><sup>2</sup><span class="m">s</span><sub>1</sub><sup>2</sup> .</div>
<div class="tx" style="left:1061px;top:833px;">(7)</div>
<div class="tx bu" style="left:824px;top:859.5px;">Permutation Feature Importance:</div>
<div class="eq" style="left:895px;top:877px;"><span class="m">e</span><sub>{1}</sub>(<b>x</b>) = 2<span class="m">α</span> + 2<span class="m">α</span><sup>2</sup><span class="m">c</span><sup>2</sup><span class="m">s</span><sub>1</sub><sup>2</sup></div>
<div class="eq" style="left:895px;top:894px;"><span class="m">e</span><sub>{2}</sub>(<b>x</b>) = 2<span class="m">α</span><sup>2</sup><span class="m">c</span><sup>2</sup><span class="m">s</span><sub>1</sub><sup>2</sup> .</div>
<div class="tx" style="left:1061px;top:885px;">(8)</div>

<!-- COLUMN 3 -->
<div class="t" style="left:1115px;top:240px;width:412px;">Shapley Values</div>
<div class="hl" style="left:1115px;top:261.5px;width:412px;"></div>
<div class="tx bu k" style="left:1126px;top:271.5px;">The Shapley values:<span class="eq"><span class="m">e</span><sub>{<span class="m">j</span>}</sub> = Σ<sub><span class="m">S</span>⊆[<span class="m">d</span>]\{<span class="m">j</span>}</sub> <span class="m">γ<sub>d</sub></span>(<span class="m">S</span>) [<span class="m">v</span>(<span class="m">S</span> ∪ {<span class="m">j</span>}) − <span class="m">v</span>(<span class="m">S</span>)].</span></div>
<div class="tx bu k" style="left:1126px;top:289.5px;">Coefficient of Multiple Determination: <span class="eq"><span class="m">v</span>(<span class="m">S</span>) = <span class="m">R</span><sup>2</sup><sub style="margin-left:-5px;" class="m">S</sub> = Σ<sub><span class="m">j</span>∈<span class="m">S</span></sub> <span class="m">w<sub>j</sub>r<sub>j</sub></span>,</span></div>
<div class="eq" style="left:1208px;top:309px;"><span class="m">e</span><sub>{1}</sub>(<b>x</b>) = <span class="m">α</span>(<span class="m">s</span><sub>1</sub><sup>2</sup> + 1)<sup>−1/2</sup>, &nbsp;&nbsp; <span class="m">e</span><sub>{2}</sub>(<b>x</b>) = 0 .</div>
<div class="tx" style="left:1513px;top:309.5px;">(9)</div>
<div class="tx bu k" style="left:1126px;top:329.5px;">SHAP (Marginal Expectation): <span class="eq"><span class="m">v</span>(<span class="m">S</span>) = 𝔼<sub><span class="m">x<sub>C</sub></span></sub>(<span class="m">f</span>(<span class="m">x<sub>S</sub></span>, <span class="m">x<sub>C</sub></span>))</span></div>
<div class="eq" style="left:1208px;top:348px;"><span class="m">e</span><sub>{1}</sub>(<b>x</b>) = <span class="m">αx</span><sub>1</sub>, &nbsp;&nbsp; <span class="m">e</span><sub>{2}</sub>(<b>x</b>) = −<span class="m">αcs</span><sub>1</sub><span class="m">s</span><sub>2</sub><sup>−1</sup><span class="m">x</span><sub>2</sub> .</div>
<div class="tx" style="left:1507px;top:348.5px;">(10)</div>
<div class="tx bu k" style="left:1126px;top:368.5px;">SHAP (Conditional Expectation): <span class="eq"><span class="m">v</span>(<span class="m">S</span>) = 𝔼(<span class="m">f</span>(<span class="m">x<sub>S</sub></span>, <span class="m">x<sub>C</sub></span>)|<span class="m">X<sub>S</sub></span> = <span class="m">x<sub>S</sub></span>)</span></div>
<div class="eq" style="left:1171px;top:386px;line-height:11px;font-size:9.5px;">
 <div style="left:0;top:6px;"><span class="m">e</span><sub>{1}</sub>(<b>x</b>) = <span class="m">αx</span><sub>1</sub> −</div>
 <div style="left:70px;top:0;text-align:center;width:16px;border-bottom:0.6px solid #222;"><span class="m">αc</span><sup>2</sup></div><div style="left:70px;top:12px;width:16px;text-align:center;">2</div>
 <div style="left:88px;top:6px;"><span class="m">h</span>(<span class="m">x</span><sub>1</sub>) −</div>
 <div style="left:120px;top:0;text-align:center;width:22px;border-bottom:0.6px solid #222;"><span class="m">αcs</span><sub>1</sub></div><div style="left:120px;top:12px;width:22px;text-align:center;">2<span class="m">s</span><sub>2</sub></div>
 <div style="left:143px;top:6px;"><span class="m">x</span><sub>2</sub> &nbsp; <span class="m">e</span><sub>{2}</sub>(<b>x</b>) =</div>
 <div style="left:196px;top:0;text-align:center;width:16px;border-bottom:0.6px solid #222;"><span class="m">αc</span><sup>2</sup></div><div style="left:196px;top:12px;width:16px;text-align:center;">2</div>
 <div style="left:214px;top:6px;"><span class="m">h</span>(<span class="m">x</span><sub>1</sub>) −</div>
 <div style="left:246px;top:0;text-align:center;width:22px;border-bottom:0.6px solid #222;"><span class="m">αcs</span><sub>1</sub></div><div style="left:246px;top:12px;width:22px;text-align:center;">2<span class="m">s</span><sub>2</sub></div>
 <div style="left:269px;top:6px;"><span class="m">x</span><sub>2</sub> ,</div>
</div>
<div class="tx" style="left:1507px;top:392.5px;">(11)</div>

<div class="t" style="left:1115px;top:417px;width:412px;">Counterfactuals</div>
<div class="hl" style="left:1115px;top:436.5px;width:412px;"></div>
<svg style="left:1115px;top:445px" width="160" height="150" viewBox="0 0 160 150">
 <defs><clipPath id="cm"><rect x="38" y="29" width="88" height="96"/></clipPath><clipPath id="cb"><polygon points="38,29 105,29 38,92"/></clipPath></defs>
 <rect x="38" y="29" width="88" height="96" fill="#F8EBE8"/>
 <polygon points="38,29 105,29 38,92" fill="#EBF0F6"/>
 <g clip-path="url(#cm)"><ellipse cx="86" cy="82" rx="66" ry="31" transform="rotate(-38 86 82)" fill="#dd8f78" opacity="0.35"/><ellipse cx="86" cy="82" rx="60" ry="26" transform="rotate(-38 86 82)" fill="url(#gr)"/></g>
 <g clip-path="url(#cb)"><ellipse cx="52" cy="60" rx="37" ry="27" transform="rotate(-38 52 60)" fill="#7fa3d3" opacity="0.4"/><ellipse cx="52" cy="60" rx="33" ry="23" transform="rotate(-38 52 60)" fill="url(#gb)"/></g>
 <line x1="78" y1="92" x2="63" y2="76" stroke="#000" stroke-width="1.4"/>
 <path d="M60,73 L66.5,76 L62.5,79.5 Z" fill="#000"/>
 <circle cx="78" cy="92" r="1.4" fill="#f00"/>
 <text x="63" y="73" font-family="Liberation Serif" font-weight="bold" font-size="9">x<tspan font-size="6" dy="-4">*</tspan></text>
 <text x="81" y="90" font-family="Liberation Serif" font-style="italic" font-size="8">ξ</text>
 <rect x="93" y="100" width="29" height="21" fill="#fff" opacity="0.92" stroke="#e4e4e4" stroke-width="0.5" rx="1"/>
 <circle cx="99" cy="106" r="1.2" fill="#4d7fc1"/><circle cx="99" cy="115" r="1.2" fill="#c95a3d"/>
 <g font-family="DejaVu Sans" font-size="5.5" fill="#222"><text x="106" y="108">-1</text><text x="107" y="117">1</text></g>
 <line x1="38" y1="21.5" x2="126" y2="21.5" stroke="#888" stroke-width="0.6"/>
 <path d="M38,21 L38,9 C50,8 60,16 78,21 Z" fill="#a8bfdf" fill-opacity="0.6" stroke="#4d7fc1" stroke-width="0.5"/>
 <path d="M45,21 C62,20 70,7 84,7 C100,7 108,18 126,19 L126,21 Z" fill="#e3a896" fill-opacity="0.6" stroke="#c95a3d" stroke-width="0.5"/>
 <line x1="131" y1="29" x2="131" y2="125" stroke="#888" stroke-width="0.6"/>
 <path d="M131,29 C133,55 144,62 144,77 C144,92 133,100 131,125 Z" fill="#b9aec7" stroke="#6b5b8c" stroke-width="0.5"/>
 <line x1="38" y1="125" x2="126" y2="125" stroke="#555" stroke-width="0.6"/><line x1="38" y1="29" x2="38" y2="125" stroke="#555" stroke-width="0.6"/>
 <g font-family="DejaVu Sans" font-size="6.5" fill="#222" text-anchor="end"><text x="35" y="31.5">2.0</text><text x="35" y="43.5">1.5</text><text x="35" y="55.5">1.0</text><text x="35" y="67.5">0.5</text><text x="35" y="79.5">0.0</text><text x="35" y="91.5">−0.5</text><text x="35" y="103.5">−1.0</text><text x="35" y="115.5">−1.5</text><text x="35" y="127.5">−2.0</text></g>
 <g font-family="DejaVu Sans" font-size="6.5" fill="#222" text-anchor="middle"><text x="49" y="134">-0.5</text><text x="71.3" y="134">0.5</text><text x="93.6" y="134">1.5</text><text x="116" y="134">2.5</text><text x="82" y="143">x<tspan font-size="4.5" dy="1.5">1</tspan></text></g>
 <text x="11" y="77" font-family="DejaVu Sans" font-size="6.5" transform="rotate(-90 11 77)" text-anchor="middle">x<tspan font-size="4.5" dy="1.5">2</tspan></text>
</svg>
<div class="tx bu" style="left:1274px;top:460.5px;">Orthogonal projection of <span class="m">ξ</span> onto<br>the decision hyperplane via its orthogonal subspace</div>
<div class="eq" style="left:1314px;top:490px;">⟨<span class="m">ξ</span> − <span class="m">au</span>, <span class="m">u</span>⟩ = 0 &nbsp;&nbsp; with &nbsp;&nbsp; <b>x</b><sup>*</sup> = <span class="m">ξ</span> − <span class="m">au</span> .</div>
<div class="tx" style="left:1507px;top:490.5px;">(12)</div>
<div class="tx bu" style="left:1274px;top:509.5px;">Counterfactual explanation <b class="r">x</b><sup>*</sup> results in</div>
<div class="eq" style="left:1333px;top:525px;"><span class="m">x</span><sub>1</sub><sup style="margin-left:-4px">*</sup> = <span class="m">β</span>(<span class="m">ξ</span><sub>1</sub> − <span class="m">ξ</span><sub>2</sub><span class="m">cs</span><sub>1</sub><span class="m">s</span><sub>2</sub><sup>−1</sup>)</div>
<div class="eq" style="left:1333px;top:542px;"><span class="m">x</span><sub>2</sub><sup style="margin-left:-4px">*</sup> = <span class="m">βcs</span><sub>1</sub><span class="m">s</span><sub>2</sub><sup>−1</sup>(<span class="m">ξ</span><sub>2</sub><span class="m">cs</span><sub>1</sub><span class="m">s</span><sub>2</sub><sup>−1</sup> + <span class="m">ξ</span><sub>1</sub>) ,</div>
<div class="tx" style="left:1507px;top:533.5px;">(13)</div>
<div class="tx" style="left:1274px;top:560.5px;">with <span class="m">β</span> = ((<span class="m">cs</span><sub>1</sub><span class="m">s</span><sub>2</sub><sup>−1</sup>)<sup>2</sup> + 1)<sup>−1</sup>.</div>

<div class="t" style="left:1115px;top:595px;width:412px;">Conclusion</div>
<div class="hl" style="left:1115px;top:614.5px;width:412px;"></div>
<div class="tx bu" style="left:1126px;top:620.5px;">We study a minimal counterexample comprising a linear classification problem<br>containing a suppressor variable which improves of prediction performance of the<br>Bayes optimal classifier.</div>
<div class="tx bu" style="left:1126px;top:662.5px;">We derived closed-form solutions for popular XAI methods analytically.</div>
<div class="tx bu" style="left:1126px;top:678.5px;">We find that a number of XAI methods assign non-zero importance to the suppressor<br>feature, showing that even the most simple multivariate mode cannot be understood<br>without knowing essential properties of data distribution.</div>

<div class="t" style="left:1115px;top:720px;width:412px;">Acknowledgement</div>
<div class="hl" style="left:1115px;top:739.5px;width:412px;"></div>
<div class="tx" style="left:1115px;top:740.5px;">This result is part of a project that has received funding from the European Research Coun-<br>cil (ERC) under the European Union's Horizon 2020 research and innovation programme<br>(Grant agreement No.&nbsp; 758985), the German Federal Ministry for Economy and Climate<br>Action (BMWK) in the frame of the QI-Digital Initiative, and the Heidenhain Foundation.<br>We thank Jakob Runge for a fruitful discussion.</div>

<div class="t" style="left:1115px;top:813px;width:412px;">References</div>
<div class="hl" style="left:1115px;top:833.5px;width:412px;"></div>
<div style="left:1129px;top:837px;font-size:6.5px;line-height:9.4px;color:#444;">[1]</div>
<div style="left:1143px;top:837px;font-size:6.5px;line-height:9.4px;color:#444;">Stefan Haufe, Frank Meinecke, Kai Görgen, Sven Dähne, John-Dylan Haynes, Benjamin<br>Blankertz, and Felix Bießmann. On the interpretation of weight vectors of linear models in<br>multivariate neuroimaging. <i>NeuroImage</i>, 87:96–110, February 2014.</div>
<div style="left:1129px;top:869px;font-size:6.5px;line-height:9.4px;color:#444;">[2]</div>
<div style="left:1143px;top:869px;font-size:6.5px;line-height:9.4px;color:#444;">Pieter-Jan Kindermans, Kristof T. Schütt, Maximilian Alber, Klaus-Robert Müller, Dumitru<br>Erhan, Been Kim, and Sven Dähne. Learning how to explain neural networks: Patternnet<br>and patternattribution. In <i>International Conference on Learning Representations</i>, 2018.</div>
<div style="left:1129px;top:901px;font-size:6.5px;line-height:9.4px;color:#444;">[3]</div>
<div style="left:1143px;top:901px;font-size:6.5px;line-height:9.4px;color:#444;">Sebastian Lapuschkin, Stephan Wäldchen, Alexander Binder, Grégoire Montavon, Wojciech<br>Samek, and Klaus-Robert Müller. Unmasking Clever Hans predictors and assessing what<br>machines really learn. <i>Nature Communications</i>, 10(1):1096, 2019.</div>
<div style="left:1129px;top:933px;font-size:6.5px;line-height:9.4px;color:#444;">[4]</div>
<div style="left:1143px;top:933px;font-size:6.5px;line-height:9.4px;color:#444;">Rick Wilming, Céline Budding, Klaus-Robert Müller, and Stefan Haufe. Scrutinizing xai using<br>linear ground-truth data with suppressor variables. <i>Machine learning</i>, 111(5):1903–1923,<br>2022.</div>
<div style="left:1440px;top:835px;font-size:8.5px;color:#444;">Haufe, et al (2014)</div>
<div style="left:1440px;top:898px;font-size:8.5px;color:#444;">Wilming, et al (2023)</div>
<svg style="left:1467px;top:851px" width="40" height="40" viewBox="0 0 25 25">
 <rect width="25" height="25" fill="#fff"/>
 <g fill="#000"><path d="M0,0h7v7h-7zM1,1v5h5v-5zM2,2h3v3h-3z" fill-rule="evenodd"/><path d="M18,0h7v7h-7zM19,1v5h5v-5zM20,2h3v3h-3z" fill-rule="evenodd"/><path d="M0,18h7v7h-7zM1,19v5h5v-5zM2,20h3v3h-3z" fill-rule="evenodd"/>
 <rect x="8" y="0" width="2" height="1"/><rect x="11" y="1" width="3" height="2"/><rect x="15" y="0" width="2" height="3"/><rect x="9" y="3" width="2" height="3"/><rect x="13" y="4" width="3" height="2"/><rect x="8" y="7" width="3" height="1"/><rect x="0" y="8" width="3" height="2"/><rect x="4" y="9" width="4" height="1"/><rect x="12" y="7" width="2" height="4"/><rect x="16" y="8" width="3" height="2"/><rect x="20" y="8" width="5" height="1"/><rect x="22" y="10" width="3" height="3"/><rect x="1" y="11" width="2" height="4"/><rect x="5" y="12" width="3" height="2"/><rect x="9" y="11" width="2" height="3"/><rect x="14" y="12" width="4" height="2"/><rect x="19" y="11" width="2" height="4"/><rect x="4" y="15" width="2" height="2"/><rect x="8" y="15" width="4" height="1"/><rect x="13" y="15" width="2" height="3"/><rect x="17" y="16" width="3" height="2"/><rect x="21" y="16" width="4" height="2"/><rect x="9" y="18" width="2" height="4"/><rect x="12" y="20" width="4" height="2"/><rect x="17" y="19" width="2" height="3"/><rect x="20" y="20" width="3" height="3"/><rect x="8" y="23" width="4" height="2"/><rect x="14" y="23" width="3" height="2"/><rect x="23" y="23" width="2" height="2"/></g>
</svg>
<svg style="left:1467px;top:914px" width="40" height="40" viewBox="0 0 25 25">
 <rect width="25" height="25" fill="#fff"/>
 <g fill="#000"><path d="M0,0h7v7h-7zM1,1v5h5v-5zM2,2h3v3h-3z" fill-rule="evenodd"/><path d="M18,0h7v7h-7zM19,1v5h5v-5zM20,2h3v3h-3z" fill-rule="evenodd"/><path d="M0,18h7v7h-7zM1,19v5h5v-5zM2,20h3v3h-3z" fill-rule="evenodd"/>
 <rect x="9" y="0" width="3" height="2"/><rect x="13" y="1" width="2" height="3"/><rect x="8" y="4" width="2" height="2"/><rect x="11" y="5" width="4" height="1"/><rect x="16" y="3" width="1" height="4"/><rect x="1" y="8" width="4" height="2"/><rect x="7" y="8" width="3" height="3"/><rect x="12" y="8" width="2" height="2"/><rect x="15" y="9" width="5" height="1"/><rect x="21" y="8" width="3" height="3"/><rect x="0" y="12" width="2" height="3"/><rect x="4" y="11" width="3" height="3"/><rect x="10" y="12" width="4" height="2"/><rect x="16" y="11" width="2" height="4"/><rect x="20" y="13" width="5" height="2"/><rect x="3" y="16" width="4" height="1"/><rect x="8" y="15" width="2" height="4"/><rect x="12" y="16" width="3" height="2"/><rect x="19" y="17" width="3" height="2"/><rect x="10" y="20" width="3" height="3"/><rect x="15" y="19" width="2" height="4"/><rect x="19" y="21" width="4" height="2"/><rect x="8" y="23" width="2" height="2"/><rect x="13" y="23" width="2" height="2"/><rect x="22" y="23" width="3" height="2"/></g>
</svg>

</div></body></html>
